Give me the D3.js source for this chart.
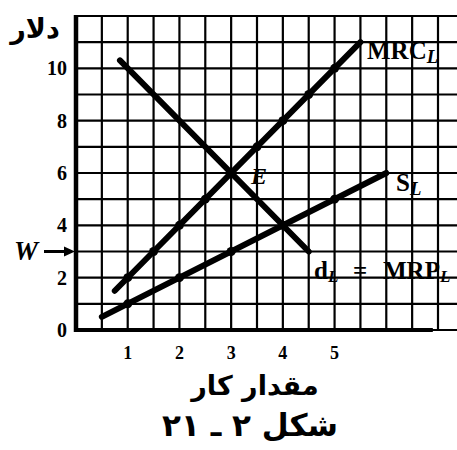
<!DOCTYPE html>
<html><head><meta charset="utf-8">
<script src="https://cdn.jsdelivr.net/npm/d3@7"></script>
<style>html,body{margin:0;padding:0;background:#fff;}svg{display:block;}</style>
</head><body>
<script>
// ---- data ----
const xTicks = [1, 2, 3, 4, 5];
const yTicks = [0, 2, 4, 6, 8, 10];
const gridX = [0, 0.5, 1, 1.5, 2, 2.5, 3, 3.5, 4, 4.5, 5, 5.5, 6, 6.5, 7];
const gridY = [0, 1, 2, 3, 4, 5, 6, 7, 8, 9, 10, 11, 12];
const mrcX = [0.75, 5.5], mrcY = [1.5, 11];
const demX = [0.85, 4.5], demY = [10.3, 3];
const supX = [0.5, 6], supY = [0.5, 6];
const mrcDotX = [1, 1.5, 2, 2.5, 3, 3.5, 4, 4.5, 5], mrcDotY = [2, 3, 4, 5, 6, 7, 8, 9, 10];
const supDotX = [1, 2, 3, 4, 5], supDotY = [1, 2, 3, 4, 5];
const wageY = 3;
const yTitle = "دلار";
const xTitle = "مقدار کار";
const figTitle = "شکل ۲ ـ ۲۱";

const W = 457, H = 450;
const svg = d3.select("body").append("svg").attr("width", W).attr("height", H);
const x = d3.scaleLinear().domain([0, 7]).range([76, 438]);
const y = d3.scaleLinear().domain([0, 12]).range([330, 16]);
const serif = "'Liberation Serif','DejaVu Serif',serif";

// grid
svg.append("g").selectAll("line").data(gridY).join("line")
  .attr("x1", x(0)).attr("x2", W).attr("y1", d => y(d)).attr("y2", d => y(d))
  .attr("stroke", "#000").attr("stroke-width", 2.2);
svg.append("g").selectAll("line").data(gridX).join("line")
  .attr("x1", d => x(d)).attr("x2", d => x(d)).attr("y1", y(12)).attr("y2", y(0))
  .attr("stroke", "#000").attr("stroke-width", 2.2);
// axes
svg.append("line").attr("x1", x(0)).attr("x2", x(0)).attr("y1", y(12) - 1).attr("y2", y(0) + 2)
  .attr("stroke", "#000").attr("stroke-width", 4.5);
svg.append("line").attr("x1", x(0) - 2).attr("x2", x(6.9)).attr("y1", y(0)).attr("y2", y(0))
  .attr("stroke", "#000").attr("stroke-width", 4);

// tick labels
svg.append("g").selectAll("text").data(yTicks).join("text")
  .attr("x", 67).attr("y", d => y(d) + 7).attr("text-anchor", "end")
  .attr("font-family", serif).attr("font-weight", "bold").attr("font-size", 20)
  .text(d => d);
svg.append("g").selectAll("text").data(xTicks).join("text")
  .attr("x", d => x(d)).attr("y", 359).attr("text-anchor", "middle")
  .attr("font-family", serif).attr("font-weight", "bold").attr("font-size", 18)
  .text(d => d);

// curves
const line = d3.line();
function curve(xs, ys) {
  svg.append("path").attr("d", line(xs.map((v, i) => [x(v), y(ys[i])])))
    .attr("fill", "none").attr("stroke", "#000").attr("stroke-width", 6)
    .attr("stroke-linecap", "round");
}
curve(mrcX, mrcY);
curve(demX, demY);
curve(supX, supY);
svg.append("g").selectAll("circle").data(mrcDotX).join("circle")
  .attr("cx", d => x(d)).attr("cy", (d, i) => y(mrcDotY[i])).attr("r", 4.5).attr("fill", "#000");
svg.append("g").selectAll("circle").data(supDotX).join("circle")
  .attr("cx", d => x(d)).attr("cy", (d, i) => y(supDotY[i])).attr("r", 4.5).attr("fill", "#000");

// wage arrow
svg.append("line").attr("x1", 44).attr("x2", x(0) - 8).attr("y1", y(wageY)).attr("y2", y(wageY))
  .attr("stroke", "#000").attr("stroke-width", 3);
svg.append("path")
  .attr("d", `M${x(0) - 1},${y(wageY)} L${x(0) - 12},${y(wageY) - 5} L${x(0) - 12},${y(wageY) + 5} Z`)
  .attr("fill", "#000");
svg.append("text").attr("x", 14).attr("y", y(wageY) + 8)
  .attr("font-family", serif).attr("font-weight", "bold").attr("font-style", "italic").attr("font-size", 27)
  .text("W");

// curve labels
function label(tx, ty, main, sub, size, italicMain) {
  const t = svg.append("text").attr("x", tx).attr("y", ty)
    .attr("font-family", serif).attr("font-weight", "bold").attr("font-size", size);
  t.append("tspan").attr("font-style", italicMain ? "italic" : "normal").text(main);
  if (sub) t.append("tspan").attr("dy", 4).attr("font-style", "italic").attr("font-size", size * 0.75).text(sub);
}
label(367, 59, "MRC", "L", 25);
label(396, 191, "S", "L", 25);
label(251, 184, "E", null, 24, true);
const dl = svg.append("text").attr("x", 314).attr("y", 279)
  .attr("font-family", serif).attr("font-weight", "bold").attr("font-size", 25);
dl.append("tspan").text("d");
dl.append("tspan").attr("dy", 3).attr("font-style", "italic").attr("font-size", 17).text("L");
dl.append("tspan").attr("x", 353).attr("dy", -3).text("=");
dl.append("tspan").attr("x", 383).text("MRP");
dl.append("tspan").attr("dy", 3).attr("font-style", "italic").attr("font-size", 17).text("L");

// persian titles
svg.append("text").attr("x", 35).attr("y", 38).attr("text-anchor", "middle")
  .attr("direction", "rtl").attr("font-family", "'DejaVu Sans'").attr("font-weight", "bold")
  .attr("font-size", 27).text(yTitle);
svg.append("text").attr("x", 255).attr("y", 395).attr("text-anchor", "middle")
  .attr("direction", "rtl").attr("font-family", "'DejaVu Sans'").attr("font-weight", "bold")
  .attr("font-size", 27).text(xTitle);
svg.append("text").attr("x", 250).attr("y", 436).attr("text-anchor", "middle")
  .attr("direction", "rtl").attr("font-family", "'DejaVu Sans'").attr("font-weight", "bold")
  .attr("font-size", 31).text(figTitle);
</script>
</body></html>
